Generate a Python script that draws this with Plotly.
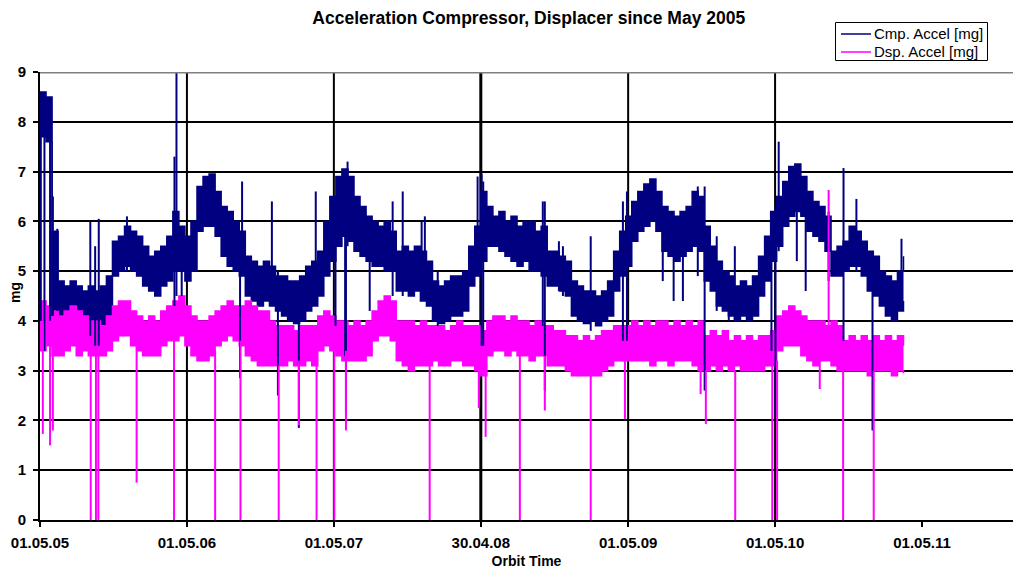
import pandas as pd
import plotly.graph_objects as go

# ---------------- data ----------------
start_date = "2005-05-01"
n_samples = 144
sample_step = "15D"

cmp_hi = [8.6, 8.5, 5.8, 4.8, 4.7, 4.8, 4.7, 4.6, 4.7, 4.6,
          4.7, 4.9, 5.6, 5.7, 5.9, 5.8, 5.7, 5.5, 5.3, 5.4,
          5.5, 5.7, 6.2, 5.9, 5.7, 6.0, 6.7, 6.9, 6.95, 6.6,
          6.3, 6.2, 6.0, 5.8, 5.3, 5.2, 5.1, 5.2, 5.1, 4.9,
          4.9, 4.8, 4.8, 4.9, 5.1, 5.2, 5.4, 6.0, 6.5, 6.9,
          7.05, 6.9, 6.5, 6.3, 6.1, 6.0, 5.9, 6.0, 5.8, 5.4,
          5.5, 5.4, 5.5, 5.4, 5.2, 4.8, 4.7, 4.8, 4.9, 4.9,
          5.0, 5.5, 5.9, 6.6, 6.3, 6.1, 6.2, 6.0, 6.1, 5.9,
          6.0, 6.0, 5.8, 5.9, 5.4, 5.4, 5.3, 5.2, 4.8, 4.7,
          4.6, 4.6, 4.5, 4.6, 4.8, 5.4, 5.8, 6.1, 6.4, 6.6,
          6.75, 6.85, 6.6, 6.3, 6.2, 6.1, 6.2, 6.3, 6.6, 6.5,
          5.9, 5.5, 5.2, 5.0, 4.9, 4.7, 4.8, 4.7, 4.9, 5.3,
          5.7, 6.2, 6.5, 6.8, 7.1, 7.15, 6.9, 6.6, 6.4, 6.3,
          6.1, 5.4, 5.5, 5.6, 5.9, 5.8, 5.6, 5.4, 5.3, 5.0,
          4.9, 4.8, 5.0, 5.3]
cmp_lo = [7.7, 7.6, 4.2, 4.1, 4.0, 4.1, 4.0, 3.9, 4.0, 3.8,
          3.7, 4.1, 4.9, 5.0, 5.1, 5.0, 4.9, 4.7, 4.6, 4.5,
          4.7, 4.8, 5.0, 5.0, 4.8, 5.0, 5.8, 5.9, 5.9, 5.7,
          5.3, 5.1, 5.0, 4.9, 4.5, 4.4, 4.3, 4.4, 4.3, 4.2,
          4.1, 4.0, 3.95, 4.0, 4.2, 4.3, 4.5, 4.9, 5.2, 5.5,
          5.7, 5.6, 5.4, 5.3, 5.2, 5.1, 5.1, 5.0, 5.0, 4.6,
          4.6, 4.5, 4.6, 4.4, 4.3, 4.0, 3.95, 4.0, 4.1, 4.1,
          4.2, 4.7, 4.9, 5.2, 5.5, 5.5, 5.4, 5.3, 5.2, 5.1,
          5.2, 5.0, 5.0, 4.9, 4.7, 4.7, 4.6, 4.5, 4.1, 4.0,
          3.95, 4.0, 3.9, 4.0, 4.1, 4.6, 4.9, 5.1, 5.6, 5.8,
          5.9, 6.0, 5.8, 5.4, 5.3, 5.2, 5.3, 5.4, 5.5, 5.4,
          4.8, 4.6, 4.3, 4.2, 4.1, 4.0, 4.1, 4.0, 4.1, 4.5,
          4.8, 5.2, 5.5, 5.9, 6.1, 6.2, 6.1, 5.8, 5.7, 5.6,
          5.4, 4.9, 4.9, 5.0, 5.1, 5.1, 4.9, 4.6, 4.5, 4.3,
          4.1, 4.0, 4.2, 4.4]
dsp_hi = [4.4, 4.3, 4.2, 4.1, 4.2, 4.3, 4.2, 4.1, 4.0, 4.0,
          3.9, 4.1, 4.3, 4.4, 4.4, 4.2, 4.1, 4.0, 4.1, 4.0,
          4.2, 4.3, 4.4, 4.5, 4.3, 4.1, 4.0, 4.0, 4.1, 4.2,
          4.3, 4.4, 4.3, 4.3, 4.4, 4.3, 4.2, 4.2, 4.0, 3.9,
          3.9, 3.9, 3.8, 3.9, 3.9, 3.9, 4.1, 4.2, 4.1, 4.0,
          4.0, 3.9, 4.0, 3.9, 4.0, 4.2, 4.4, 4.5, 4.4, 4.0,
          4.0, 4.0, 3.9, 4.0, 3.9, 3.9, 3.9, 3.8, 3.9, 4.0,
          3.9, 3.9, 3.9, 3.8, 4.0, 4.1, 4.1, 4.0, 4.1, 4.0,
          4.0, 3.9, 4.0, 3.9, 3.9, 3.8, 3.8, 3.7, 3.7, 3.6,
          3.7, 3.6, 3.7, 3.8, 3.8, 3.9, 3.9, 3.9, 4.0, 3.9,
          4.0, 3.9, 4.0, 4.0, 3.9, 4.0, 3.9, 4.0, 3.9, 4.0,
          3.7, 3.8, 3.7, 3.8, 3.6, 3.7, 3.6, 3.7, 3.6, 3.7,
          3.7, 3.8, 4.1, 4.2, 4.3, 4.2, 4.1, 4.0, 4.0, 4.0,
          3.9, 4.0, 3.9, 3.6, 3.7, 3.6, 3.7, 3.6, 3.7, 3.6,
          3.7, 3.6, 3.7, 3.5]
dsp_lo = [3.4, 3.5, 3.3, 3.3, 3.4, 3.5, 3.3, 3.4, 3.3, 3.3,
          3.3, 3.4, 3.6, 3.7, 3.7, 3.5, 3.4, 3.3, 3.3, 3.3,
          3.5, 3.6, 3.6, 3.7, 3.5, 3.3, 3.2, 3.2, 3.3, 3.5,
          3.6, 3.7, 3.6, 3.5, 3.3, 3.2, 3.1, 3.1, 3.1, 3.1,
          3.1, 3.2, 3.1, 3.1, 3.2, 3.1, 3.4, 3.5, 3.4, 3.3,
          3.2, 3.2, 3.2, 3.2, 3.3, 3.6, 3.7, 3.7, 3.6, 3.2,
          3.1, 3.0, 3.1, 3.1, 3.1, 3.2, 3.1, 3.1, 3.2, 3.2,
          3.1, 3.1, 3.0, 2.9, 3.3, 3.4, 3.4, 3.3, 3.4, 3.3,
          3.3, 3.2, 3.3, 3.3, 3.1, 3.1, 3.1, 3.0, 2.9, 2.9,
          2.9, 2.9, 2.9, 3.0, 3.1, 3.2, 3.2, 3.2, 3.2, 3.2,
          3.2, 3.1, 3.2, 3.2, 3.1, 3.2, 3.2, 3.2, 3.1, 3.0,
          3.0, 3.1, 3.0, 3.1, 3.0, 3.1, 3.0, 3.0, 3.0, 3.0,
          3.1, 3.1, 3.4, 3.5, 3.5, 3.5, 3.3, 3.2, 3.1, 3.2,
          3.2, 3.1, 3.0, 3.0, 3.0, 3.0, 3.0, 2.9, 3.0, 3.0,
          3.0, 2.9, 3.0, 2.95]

# isolated spikes (date, low end, high end)
cmp_spike_dates = ["2005-05-03", "2005-05-12", "2005-05-26", "2005-05-28", "2005-06-02", "2005-06-13",
                   "2005-09-03", "2005-09-15", "2005-09-24", "2005-12-03", "2006-03-31", "2006-04-05",
                   "2006-04-18", "2006-09-10", "2006-09-15", "2006-11-28", "2006-12-13", "2007-02-03",
                   "2007-03-17", "2007-05-05", "2007-05-29", "2007-05-31", "2007-06-04", "2007-07-29",
                   "2007-09-24", "2007-10-19", "2007-12-05", "2007-12-13", "2008-01-14", "2008-04-22",
                   "2008-05-02", "2008-05-06", "2008-10-01", "2008-10-06", "2008-11-10", "2008-11-20",
                   "2009-01-28", "2009-04-18", "2009-04-28", "2009-07-26", "2009-08-22", "2009-09-14",
                   "2009-10-21", "2009-11-07", "2009-12-07", "2010-01-06", "2010-01-21", "2010-04-22",
                   "2010-05-02", "2010-05-10", "2010-06-24", "2010-07-16", "2010-09-11", "2010-10-18",
                   "2010-11-19", "2010-12-29", "2011-03-11"]
cmp_spike_lo = [4.0, 3.4, 4.0, 4.1, 4.1, 4.2,
                3.7, 3.5, 3.5, 5.0, 4.3, 4.5,
                4.5, 2.85, 4.9, 4.3, 2.5, 1.85,
                4.3, 3.9, 3.3, 2.1, 5.5, 4.2,
                4.5, 4.5, 4.4, 4.4, 3.9, 4.9,
                3.5, 3.5, 3.9, 2.6, 4.6, 4.5,
                3.8, 3.6, 3.6, 4.8, 4.4, 4.4,
                4.9, 2.6, 4.2, 4.0, 4.0, 3.4,
                2.07, 5.4, 5.2, 4.6, 4.8, 3.6,
                5.0, 1.8, 4.4]
cmp_spike_hi = [8.4, 8.3, 8.4, 5.8, 6.5, 5.85,
                6.0, 5.5, 6.05, 6.1, 7.3, 9.0,
                5.6, 5.8, 6.8, 6.4, 5.0, 4.8,
                6.6, 6.5, 6.8, 6.8, 7.2, 6.0,
                6.4, 6.6, 6.0, 6.1, 5.0, 6.9,
                6.95, 6.8, 6.4, 6.4, 5.6, 5.5,
                5.7, 6.4, 6.6, 6.3, 6.1, 6.2,
                6.7, 6.7, 5.7, 5.0, 5.5, 6.2,
                6.3, 7.6, 7.0, 6.6, 6.2, 7.07,
                6.45, 4.8, 5.65]

dsp_spike_dates = ["2005-05-08", "2005-05-26", "2005-06-02", "2005-09-04", "2005-09-17", "2005-09-23",
                   "2005-12-27", "2006-03-30", "2006-07-10", "2006-09-11", "2006-12-15", "2007-02-03",
                   "2007-03-19", "2007-05-02", "2007-05-31", "2007-12-25", "2008-04-25", "2008-05-12",
                   "2008-08-05", "2008-10-06", "2009-01-28", "2009-04-23", "2009-10-28", "2009-11-10",
                   "2010-01-22", "2010-04-24", "2010-05-06", "2010-08-20", "2010-09-11", "2010-10-17",
                   "2011-01-01"]
dsp_spike_lo = [1.73, 1.5, 1.8, 0.0, 0.0, 0.0,
                0.75, 0.0, 0.0, 0.0, 0.0, 1.9,
                0.0, 0.0, 1.8, 0.0, 2.25, 1.67,
                0.0, 2.2, 0.0, 2.03, 2.53, 1.93,
                0.0, 0.0, 0.0, 2.63, 3.5, 0.0,
                0.0]
dsp_spike_hi = [4.0, 4.0, 4.0, 3.6, 3.5, 3.5,
                3.5, 3.6, 3.4, 3.6, 3.1, 3.2,
                3.3, 3.4, 3.4, 3.2, 3.2, 3.3,
                3.4, 3.3, 2.9, 3.2, 3.0, 3.0,
                3.0, 3.1, 3.2, 3.2, 6.63, 3.1,
                3.0]

tick_dates = ["2005-05-01", "2006-05-01", "2007-05-01", "2008-04-30", "2009-05-01", "2010-05-01", "2011-05-01"]
tick_text = ["01.05.05", "01.05.06", "01.05.07", "30.04.08", "01.05.09", "01.05.10", "01.05.11"]
grid_dates = ["2006-05-01", "2007-05-01", "2008-04-30", "2009-05-01", "2010-05-01"]
series_names = ["Cmp. Accel [mg]", "Dsp. Accel [mg]"]

# ---------------- figure ----------------
NAVY = "#000080"
MAGENTA = "#FF00FF"
FONT = "Liberation Sans, Arial, sans-serif"
W, H = 1013, 569
ML, MR, MT, MB = 40, 0, 72, 49
PW, PH = W - ML - MR, H - MT - MB


def px_x(px):
    return (px - ML) / PW


def px_y(py):
    return (H - MB - py) / PH


dates = pd.date_range(start_date, periods=n_samples, freq=sample_step)


def spike_xy(dlist, lo, hi):
    xs, ys = [], []
    for d, a, b in zip(dlist, lo, hi):
        xs += [d, d, None]
        ys += [a, b, None]
    return xs, ys


fig = go.Figure()


def add_band(lo, hi, color, name):
    fig.add_trace(go.Scatter(x=dates, y=lo, mode="lines", line=dict(color=color, width=1.5, shape="hv"),
                             showlegend=False, hoverinfo="skip", legendgroup=name))
    fig.add_trace(go.Scatter(x=dates, y=hi, mode="lines", line=dict(color=color, width=1.5, shape="hv"),
                             fill="tonexty", fillcolor=color, showlegend=False,
                             hoverinfo="skip", legendgroup=name))


add_band(cmp_lo, cmp_hi, NAVY, "cmp")
add_band(dsp_lo, dsp_hi, MAGENTA, "dsp")

sx, sy = spike_xy(cmp_spike_dates, cmp_spike_lo, cmp_spike_hi)
fig.add_trace(go.Scatter(x=sx, y=sy, mode="lines", line=dict(color=NAVY, width=2),
                         name=series_names[0], legendgroup="cmp", showlegend=False))
sx, sy = spike_xy(dsp_spike_dates, dsp_spike_lo, dsp_spike_hi)
fig.add_trace(go.Scatter(x=sx, y=sy, mode="lines", line=dict(color=MAGENTA, width=2),
                         name=series_names[1], legendgroup="dsp", showlegend=False))

# vertical gridlines (no gridline at the last labelled date)
for gd in grid_dates:
    fig.add_shape(type="line", xref="x", yref="paper", x0=gd, x1=gd, y0=0, y1=1,
                  line=dict(color="black", width=3 if gd == "2008-04-30" else 2), layer="below")

fig.add_shape(type="line", xref="paper", yref="y", x0=0, x1=1, y0=9, y1=9,
              line=dict(color="#808080", width=3))

# legend box (drawn manually to match the compact Excel legend)
fig.add_shape(type="rect", xref="paper", yref="paper",
              x0=px_x(835.5), x1=px_x(987.5), y0=px_y(60.5), y1=px_y(22.5),
              line=dict(color="black", width=1), fillcolor="white")
for name, color, py in zip(series_names, [NAVY, MAGENTA], [34, 52]):
    fig.add_shape(type="line", xref="paper", yref="paper",
                  x0=px_x(841), x1=px_x(871), y0=px_y(py), y1=px_y(py),
                  line=dict(color=color, width=1.5))
    fig.add_annotation(text=name, xref="paper", yref="paper", x=px_x(872), y=px_y(py),
                       xanchor="left", yanchor="middle", showarrow=False,
                       font=dict(size=15, family=FONT, color="black"))

# y axis title
fig.add_annotation(text="<b>mg</b>", xref="paper", yref="paper", x=px_x(15), y=px_y(293),
                   xanchor="center", yanchor="middle", showarrow=False, textangle=-90,
                   font=dict(size=14, family=FONT, color="black"))

fig.update_layout(
    width=W, height=H,
    margin=dict(l=ML, r=MR, t=MT, b=MB, autoexpand=False),
    paper_bgcolor="white", plot_bgcolor="white",
    font=dict(family=FONT, color="black", size=14),
    title=dict(text="<b>Acceleration Compressor, Displacer since May 2005</b>",
               x=0.522, xanchor="center", y=0.968, yanchor="middle",
               font=dict(size=17.5, family=FONT)),
    showlegend=False,
)

fig.update_xaxes(
    type="date", range=["2005-05-01", "2011-12-13"],
    tickmode="array", tickvals=tick_dates, ticktext=tick_text,
    showgrid=False, automargin=False,
    showline=True, linecolor="black", linewidth=2,
    ticks="outside", ticklen=5, tickcolor="black", tickwidth=2,
    ticklabelstandoff=3,
    tickfont=dict(size=15, family=FONT, weight="bold"),
    title=dict(text="<b>Orbit Time</b>", font=dict(size=14, family=FONT), standoff=10),
    zeroline=False,
)
fig.update_yaxes(
    range=[0, 9], tickmode="array", tickvals=list(range(0, 10)),
    showgrid=True, gridcolor="black", gridwidth=2,
    showline=True, linecolor="black", linewidth=2, automargin=False,
    ticks="outside", ticklen=5, tickcolor="black", tickwidth=2,
    ticklabelstandoff=4,
    tickfont=dict(size=15, family=FONT, weight="bold"),
    zeroline=False,
)

fig.write_html("out.html", config={"displayModeBar": False},
               post_script="document.body.style.margin='0px';")
